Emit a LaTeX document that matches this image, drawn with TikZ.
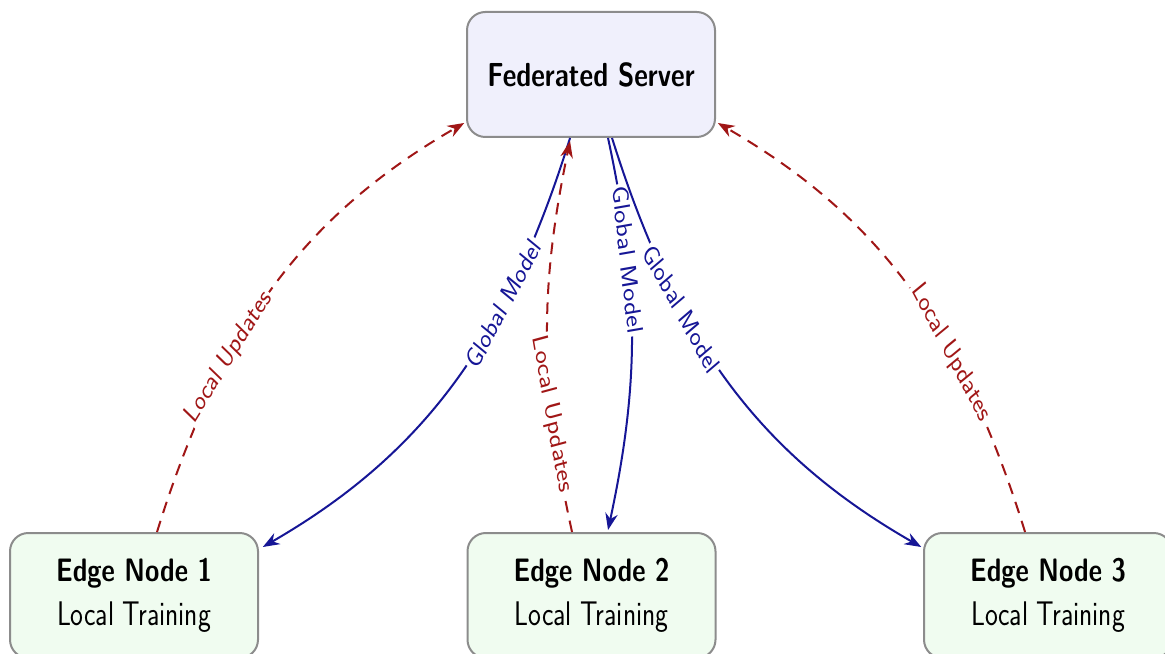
\documentclass[tikz,border=0pt]{standalone}
\usetikzlibrary{arrows.meta,calc}
\definecolor{srvfill}{RGB}{240,240,252}
\definecolor{edgefill}{RGB}{240,252,240}
\definecolor{boxgray}{RGB}{140,140,140}
\definecolor{flowblue}{RGB}{22,22,150}
\definecolor{flowred}{RGB}{160,22,22}
\begin{document}
\begin{tikzpicture}[x=0.75pt,y=0.6pt,xscale=0.8,
  box/.style={transform shape,draw=boxgray,line width=1.2pt,rounded corners=11pt,
    minimum width=186pt,minimum height=75pt,align=center,
    font=\sffamily\fontsize{20}{26}\selectfont},
  srv/.style={box,fill=srvfill},
  edgebox/.style={box,fill=edgefill},
  gm/.style={draw=flowblue,line width=1.2pt,-{Stealth[length=10pt,width=7.5pt]}},
  lu/.style={draw=flowred,line width=1.2pt,dash pattern=on 7pt off 5pt,-{Stealth[length=10pt,width=7.5pt]}},
  gml/.style={transform shape,fill=white,inner sep=1.5pt,text=flowblue,font=\sffamily\fontsize{17}{19}\selectfont},
  lul/.style={transform shape,fill=white,inner sep=1.5pt,text=flowred,font=\sffamily\fontsize{17}{19}\selectfont}
]
\useasboundingbox (0,0) rectangle (1165,653);
\node[srv] (server) at (591,578.5) {\textbf{Federated Server}};
\node[edgebox] (edge1) at (134,57.5) {{\fontsize{19.5}{26}\selectfont\textbf{Edge Node 1}}\\{\fontsize{20.5}{26}\selectfont Local Training}};
\node[edgebox] (edge2) at (591.5,57.5) {{\fontsize{19.5}{26}\selectfont\textbf{Edge Node 2}}\\{\fontsize{20.5}{26}\selectfont Local Training}};
\node[edgebox] (edge3) at (1048,57.5) {{\fontsize{19.5}{26}\selectfont\textbf{Edge Node 3}}\\{\fontsize{20.5}{26}\selectfont Local Training}};
% global model
\draw[gm] ($(server.south)+(-21,0)$) to[bend left=22] node[gml,pos=0.31,rotate=56.6] {Global Model} ($(edge1.north east)+(4,-15)$);
\draw[gm] ($(server.south)+(17,0)$) to[bend left=15] node[gml,pos=0.3,rotate=-82.1] {Global Model} ($(edge2.north)+(16.5,2)$);
\draw[gm] ($(server.south)+(21,0)$) to[bend right=22] node[gml,pos=0.32,rotate=-55.7] {Global Model} ($(edge3.north west)+(-2,-15)$);
% local updates
\draw[lu] ($(edge1.north)+(23,0)$) to[bend left=22] node[lul,pos=0.33,rotate=52.2] {Local Updates} ($(server.south west)+(-2,15)$);
\draw[lu] ($(edge2.north)+(-19.5,0)$) to[bend left=15] node[lul,pos=0.29,rotate=-77.8] {Local Updates} ($(server.south)+(-21,-3)$);
\draw[lu] ($(edge3.north)+(-23,0)$) to[bend right=22] node[lul,pos=0.34,rotate=-56.6] {Local Updates} ($(server.south east)+(2,15)$);
\end{tikzpicture}
\end{document}
